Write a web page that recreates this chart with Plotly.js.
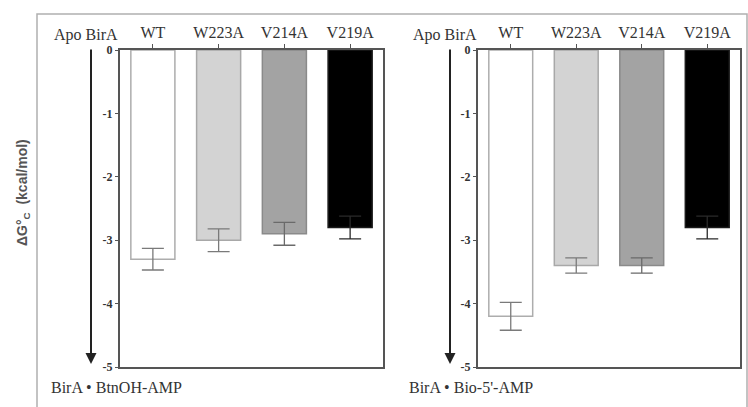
<!DOCTYPE html>
<html>
<head>
<meta charset="utf-8">
<script src="https://cdn.plot.ly/plotly-3.0.1.min.js"></script>
<style>html,body{margin:0;padding:0;background:#fff;}#chart{width:748px;height:407px;}</style>
</head>
<body>
<div id="chart"></div>
<script>
// ---- data ----
var categories = ["WT", "W223A", "V214A", "V219A"];
var btnohValues = [-3.3, -3.0, -2.9, -2.8];     // BirA • BtnOH-AMP
var btnohErrors = [0.17, 0.18, 0.18, 0.18];
var bioValues = [-4.2, -3.4, -3.4, -2.8];        // BirA • Bio-5'-AMP
var bioErrors = [0.22, 0.12, 0.12, 0.18];
var yTickValues = [0, -1, -2, -3, -4, -5];
var yTickLabels = ["0", "-1", "-2", "-3", "-4", "-5"];
var panelLabels = ["BirA \u2022 BtnOH-AMP", "BirA \u2022 Bio-5'-AMP"];
var apoLabel = "Apo BirA";

// ---- styles ----
var fills = ["#ffffff", "#d3d3d3", "#a3a3a3", "#000000"];
var edges = ["#adadad", "#a8a8a8", "#8a8a8a", "#1a1a1a"];
var errColors = ["#7a7a7a", "#7a7a7a", "#6a6a6a", "#2a2a2a"];
var W = 748, H = 407;
function px(x){ return x / W; }
function py(y){ return (H - y) / H; }

var traces = [];
function addPanel(values, errors, xa, ya){
  for (var i = 0; i < categories.length; i++){
    traces.push({
      type: "bar",
      x: [categories[i]],
      y: [values[i]],
      xaxis: xa, yaxis: ya,
      width: 0.67,
      marker: {color: fills[i], line: {color: edges[i], width: 1.5}},
      error_y: {type: "data", array: [errors[i]], visible: true, color: errColors[i], thickness: 1.3, width: 11},
      hoverinfo: "skip",
      showlegend: false
    });
  }
}
addPanel(btnohValues, btnohErrors, "x", "y");
addPanel(bioValues, bioErrors, "x2", "y2");

var serif = "Liberation Serif, Times New Roman, serif";
function xAxis(domain, anchor){
  return {
    domain: domain, anchor: anchor, side: "top",
    type: "category", categoryorder: "array", categoryarray: categories,
    range: [-0.5, 3.5], fixedrange: true,
    showline: true, linecolor: "#555", linewidth: 2, mirror: true,
    ticks: "outside", ticklen: 4, tickwidth: 1, tickcolor: "#555",
    tickfont: {family: serif, size: 16, color: "#333"},
    showgrid: false, zeroline: false
  };
}
function yAxis(anchor){
  return {
    domain: [py(367), py(50)], anchor: anchor,
    range: [-5, 0], fixedrange: true,
    tickmode: "array", tickvals: yTickValues,
    ticktext: yTickLabels.map(function(t){ return "<b>" + t + "</b>"; }),
    showline: true, linecolor: "#555", linewidth: 2, mirror: true,
    ticks: "outside", ticklen: 3, tickwidth: 1, tickcolor: "#555",
    tickfont: {family: serif, size: 12, color: "#333"},
    showgrid: false, zeroline: false
  };
}

var txtFont = {family: serif, size: 16, color: "#333"};
var layout = {
  width: W, height: H,
  margin: {l: 0, r: 0, t: 0, b: 0},
  paper_bgcolor: "#fff", plot_bgcolor: "rgba(0,0,0,0)",
  barmode: "overlay",
  showlegend: false,
  xaxis: xAxis([px(120), px(383)], "y"),
  yaxis: yAxis("x"),
  xaxis2: xAxis([px(478), px(740)], "y2"),
  yaxis2: yAxis("x2"),
  shapes: [
    {type: "rect", xref: "paper", yref: "paper",
     x0: px(37), x1: px(747), y0: py(412), y1: py(14),
     line: {color: "#b0b0b0", width: 1.5}, layer: "below"}
  ],
  annotations: [
    {xref: "paper", yref: "paper", x: px(86), y: py(35), xanchor: "center", yanchor: "middle", text: apoLabel, showarrow: false, font: txtFont},
    {xref: "paper", yref: "paper", x: px(445), y: py(35), xanchor: "center", yanchor: "middle", text: apoLabel, showarrow: false, font: txtFont},
    {xref: "paper", yref: "paper", x: px(49), y: py(387), xanchor: "left", yanchor: "middle", text: panelLabels[0], showarrow: false, font: txtFont},
    {xref: "paper", yref: "paper", x: px(407), y: py(387), xanchor: "left", yanchor: "middle", text: panelLabels[1], showarrow: false, font: txtFont},
    {xref: "paper", yref: "paper", x: px(91), y: py(364), text: "", showarrow: true,
     axref: "pixel", ayref: "pixel", ax: 0, ay: -316,
     arrowhead: 2, arrowsize: 1.1, arrowwidth: 2, arrowcolor: "#222"},
    {xref: "paper", yref: "paper", x: px(450), y: py(364), text: "", showarrow: true,
     axref: "pixel", ayref: "pixel", ax: 0, ay: -316,
     arrowhead: 2, arrowsize: 1.1, arrowwidth: 2, arrowcolor: "#222"},
    {xref: "paper", yref: "paper", x: px(23), y: py(193), xanchor: "center", yanchor: "middle", textangle: -90,
     text: "<b>\u0394G\u00b0<sub>C</sub>  (kcal/mol)</b>", showarrow: false,
     font: {family: "Liberation Sans, Arial, sans-serif", size: 14, color: "#555"}}
  ]
};

Plotly.newPlot("chart", traces, layout, {displayModeBar: false, staticPlot: true});
</script>
</body>
</html>
